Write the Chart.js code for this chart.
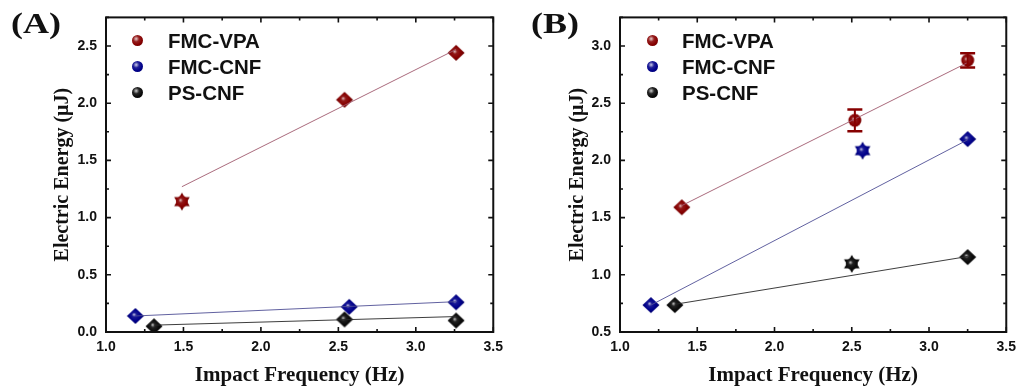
<!DOCTYPE html>
<html>
<head>
<meta charset="utf-8">
<script src="https://cdn.jsdelivr.net/npm/chart.js@4.4.1/dist/chart.umd.min.js"></script>
<style>
    body { margin: 0; background: #fff; width: 1023px; height: 390px; position: relative; overflow: hidden; }
    .panel { position: absolute; top: 0; height: 390px; }
    .tag { position: absolute; top: 8px; font: bold 30px "Liberation Serif", serif; line-height: 1; color: #111; transform: scaleX(1.2); transform-origin: 0 0; }
    .legend { position: absolute; top: 0; left: 0; font: bold 20.5px "Liberation Sans", Arial, sans-serif; color: #111; }
    .row { position: absolute; height: 26px; line-height: 26px; white-space: nowrap; }
    .ball { position: absolute; width: 11px; height: 11px; border-radius: 50%; top: 7px; }
</style>
</head>
<body>
<div class="panel" id="panelA" style="left:0;width:510px">
    <canvas id="chartA" width="510" height="390"></canvas>
    <div class="tag" style="left:11px">(A)</div>
    <div class="legend" id="legendA"></div>
</div>
<div class="panel" id="panelB" style="left:510px;width:513px">
    <canvas id="chartB" width="513" height="390"></canvas>
    <div class="tag" style="left:21px">(B)</div>
    <div class="legend" id="legendB"></div>
</div>
<script>
// Series
const seriesNames = ['FMC-VPA', 'FMC-CNF', 'PS-CNF'];
const seriesColors = ['#860000', '#00008a', '#0a0a0a'];
const fitColors = ['rgba(160,90,110,0.9)', 'rgba(80,80,150,0.9)', 'rgba(40,40,40,0.9)'];

// Axis ticks
const xTicks = [1.0, 1.5, 2.0, 2.5, 3.0, 3.5];
const yTicksA = [0.0, 0.5, 1.0, 1.5, 2.0, 2.5];
const yTicksB = [0.5, 1.0, 1.5, 2.0, 2.5, 3.0];

// Panel A data
const freqA_vpa = [1.49, 2.54, 3.26];
const energyA_vpa = [1.14, 2.03, 2.44];
const freqA_cnf = [1.19, 2.57, 3.26];
const energyA_cnf = [0.14, 0.22, 0.26];
const freqA_ps = [1.31, 2.54, 3.26];
const energyA_ps = [0.05, 0.11, 0.10];
const fitA_vpa = [[1.49, 1.27], [3.26, 2.47]];
const fitA_cnf = [[1.19, 0.14], [3.26, 0.265]];
const fitA_ps = [[1.31, 0.06], [3.26, 0.135]];

// Panel B data
const freqB_vpa = [1.40, 2.52, 3.25];
const energyB_vpa = [1.59, 2.35, 2.875];
const errorB_vpa = [0, 0.095, 0.062];
const freqB_cnf = [1.20, 2.57, 3.25];
const energyB_cnf = [0.735, 2.085, 2.186];
const freqB_ps = [1.355, 2.50, 3.25];
const energyB_ps = [0.735, 1.096, 1.155];
const fitB_vpa = [[1.40, 1.605], [3.25, 2.855]];
const fitB_cnf = [[1.20, 0.735], [3.25, 2.18]];
const fitB_ps = [[1.355, 0.742], [3.25, 1.16]];

// Marker shapes per point (style only)
const shapesA = [['hex', 'diamond', 'diamond'], ['diamond', 'diamond', 'diamond'], ['diamond', 'diamond', 'diamond']];
const shapesB = [['diamond', 'ball', 'ball'], ['diamond', 'hex', 'diamond'], ['diamond', 'hex', 'diamond']];

function shade(hex, amt) {
    const n = parseInt(hex.slice(1), 16);
    const c = [(n >> 16) & 255, (n >> 8) & 255, n & 255].map(v =>
        Math.round(amt >= 0 ? v + (255 - v) * amt : v * (1 + amt)));
    return `rgb(${c[0]},${c[1]},${c[2]})`;
}

const markerCache = {};
function marker(color, shape) {
    const key = color + shape;
    if (markerCache[key]) return markerCache[key];
    const c = document.createElement('canvas');
    c.width = 22; c.height = 22;
    const ctx = c.getContext('2d');
    const g = ctx.createRadialGradient(9.5, 9.5, 0.3, 11, 11, 9);
    g.addColorStop(0, shade(color, 0.7));
    g.addColorStop(0.22, shade(color, 0.1));
    g.addColorStop(0.6, color);
    g.addColorStop(1, shade(color, -0.3));
    ctx.fillStyle = g;
    ctx.beginPath();
    if (shape === 'diamond') {
        ctx.moveTo(11, 3); ctx.lineTo(19.5, 11); ctx.lineTo(11, 19); ctx.lineTo(2.5, 11);
        ctx.closePath();
    } else if (shape === 'hex') {
        for (let t = 0; t < 2; t++) {
            for (let k = 0; k < 3; k++) {
                const a = -Math.PI / 2 + t * Math.PI / 3 + k * 2 * Math.PI / 3;
                const px = 11 + 9 * Math.cos(a), py = 11 + 9 * Math.sin(a);
                if (k === 0) ctx.moveTo(px, py); else ctx.lineTo(px, py);
            }
            ctx.closePath();
        }
        ctx.moveTo(17, 11);
        ctx.arc(11, 11, 6, 0, Math.PI * 2);
    } else {
        ctx.arc(11, 11, 6.5, 0, Math.PI * 2);
    }
    ctx.fill('nonzero');
    markerCache[key] = c;
    return c;
}

function points(xs, ys) {
    return xs.map((x, i) => ({ x, y: ys[i] }));
}

// Inward ticks and frame, like the original plotting software
const framePlugin = {
    id: 'frame',
    afterDraw(chart) {
        const { ctx, chartArea: a, scales } = chart;
        const yTicks = chart.options.plugins.frame.yTicks;
        ctx.save();
        ctx.strokeStyle = '#111';
        ctx.lineWidth = 2;
        ctx.strokeRect(a.left, a.top, a.right - a.left, a.bottom - a.top);
        const drawX = (v, len) => {
            const px = scales.x.getPixelForValue(v);
            ctx.beginPath();
            ctx.moveTo(px, a.bottom); ctx.lineTo(px, a.bottom - len);
            ctx.moveTo(px, a.top); ctx.lineTo(px, a.top + len);
            ctx.stroke();
        };
        const drawY = (v, len) => {
            const py = scales.y.getPixelForValue(v);
            ctx.beginPath();
            ctx.moveTo(a.left, py); ctx.lineTo(a.left + len, py);
            ctx.moveTo(a.right, py); ctx.lineTo(a.right - len, py);
            ctx.stroke();
        };
        ctx.lineWidth = 1.6;
        xTicks.forEach(v => drawX(v, 5));
        xTicks.slice(1).forEach((v, i) => drawX((v + xTicks[i]) / 2, 3));
        yTicks.forEach(v => drawY(v, 5));
        yTicks.forEach((v, i) => drawY(v + 0.25, 3));
        ctx.restore();
    }
};

// Vertical error bars from the dataset's yErr list
const errorBarPlugin = {
    id: 'errorBars',
    afterDatasetsDraw(chart) {
        const { ctx, scales } = chart;
        chart.data.datasets.forEach(ds => {
            if (!ds.yErr) return;
            ds.data.forEach((p, i) => {
                const e = ds.yErr[i];
                if (!e) return;
                const px = scales.x.getPixelForValue(p.x);
                const top = scales.y.getPixelForValue(p.y + e);
                const bot = scales.y.getPixelForValue(p.y - e);
                ctx.save();
                ctx.strokeStyle = ds.borderColor;
                ctx.lineWidth = 2;
                ctx.beginPath();
                ctx.moveTo(px, top); ctx.lineTo(px, bot);
                ctx.stroke();
                ctx.lineWidth = 2.5;
                ctx.beginPath();
                ctx.moveTo(px - 7.5, top); ctx.lineTo(px + 7.5, top);
                ctx.moveTo(px - 7.5, bot); ctx.lineTo(px + 7.5, bot);
                ctx.stroke();
                ctx.restore();
            });
        });
    }
};

function buildPanel(canvasId, { series, fits, shapes, errors, yMin, yMax, yTicks, plotLeft, plotRight, width, yTitlePad }) {
    const datasets = [];
    fits.forEach((f, s) => {
        datasets.push({
            data: f.map(([x, y]) => ({ x, y })),
            showLine: true,
            borderColor: fitColors[s],
            borderWidth: 1,
            pointRadius: 0
        });
    });
    series.forEach(([xs, ys], s) => {
        datasets.push({
            data: points(xs, ys),
            showLine: false,
            borderColor: seriesColors[s],
            yErr: errors[s],
            pointStyle: shapes[s].map(sh => marker(seriesColors[s], sh)),
            pointRadius: 9
        });
    });

    const tickFont = { family: 'Liberation Sans', weight: 'bold', size: 14 };
    const xTitleFont = { family: 'Liberation Serif', weight: 'bold', size: 21 };
    const yTitleFont = { family: 'Liberation Serif', weight: 'bold', size: 20 };

    return new Chart(document.getElementById(canvasId).getContext('2d'), {
        type: 'scatter',
        data: { datasets },
        options: {
            responsive: false,
            animation: false,
            events: [],
            layout: { padding: { top: 16, right: width - plotRight, left: 0, bottom: 0 } },
            plugins: {
                legend: { display: false },
                tooltip: { enabled: false },
                frame: { yTicks }
            },
            scales: {
                x: {
                    type: 'linear',
                    min: 1.0,
                    max: 3.5,
                    afterBuildTicks: s => { s.ticks = xTicks.map(value => ({ value })); },
                    afterFit: s => { s.height = 58; },
                    grid: { display: false, drawTicks: false },
                    border: { display: false },
                    ticks: { font: tickFont, color: '#111', padding: 7, maxRotation: 0, callback: v => v.toFixed(1) },
                    title: { display: true, text: 'Impact Frequency (Hz)', font: xTitleFont, color: '#111', padding: { top: 0, bottom: 1.5 } }
                },
                y: {
                    type: 'linear',
                    min: yMin,
                    max: yMax,
                    afterBuildTicks: s => { s.ticks = yTicks.map(value => ({ value })); },
                    afterFit: s => { s.width = plotLeft; },
                    grid: { display: false, drawTicks: false },
                    border: { display: false },
                    ticks: { font: tickFont, color: '#111', padding: 9, callback: v => v.toFixed(1) },
                    title: { display: true, text: 'Electric Energy (μJ)', font: yTitleFont, color: '#111', padding: { top: yTitlePad, bottom: 0 } }
                }
            }
        },
        plugins: [framePlugin, errorBarPlugin]
    });
}

function buildLegend(id, ballLeft, textLeft) {
    const el = document.getElementById(id);
    seriesNames.forEach((name, i) => {
        const row = document.createElement('div');
        row.className = 'row';
        row.style.top = (28 + i * 26) + 'px';
        row.style.left = '0px';
        const ball = document.createElement('div');
        ball.className = 'ball';
        ball.style.left = ballLeft + 'px';
        const c = seriesColors[i];
        ball.style.background = `radial-gradient(circle at 38% 35%, ${shade(c, 0.8)} 0, ${shade(c, 0.12)} 30%, ${c} 60%, ${shade(c, -0.3)} 100%)`;
        const label = document.createElement('span');
        label.textContent = name;
        label.style.position = 'absolute';
        label.style.left = textLeft + 'px';
        row.appendChild(ball);
        row.appendChild(label);
        el.appendChild(row);
    });
}

buildPanel('chartA', {
    series: [[freqA_vpa, energyA_vpa], [freqA_cnf, energyA_cnf], [freqA_ps, energyA_ps]],
    fits: [fitA_vpa, fitA_cnf, fitA_ps],
    shapes: shapesA,
    errors: [null, null, null],
    yMin: 0, yMax: 2.75, yTicks: yTicksA,
    plotLeft: 106, plotRight: 499, width: 510, yTitlePad: 51
});

buildPanel('chartB', {
    series: [[freqB_vpa, energyB_vpa], [freqB_cnf, energyB_cnf], [freqB_ps, energyB_ps]],
    fits: [fitB_vpa, fitB_cnf, fitB_ps],
    shapes: shapesB,
    errors: [errorB_vpa, null, null],
    yMin: 0.5, yMax: 3.25, yTicks: yTicksB,
    plotLeft: 110, plotRight: 503, width: 513, yTitlePad: 56
});

buildLegend('legendA', 132, 168);
buildLegend('legendB', 137, 172);
</script>
</body>
</html>
